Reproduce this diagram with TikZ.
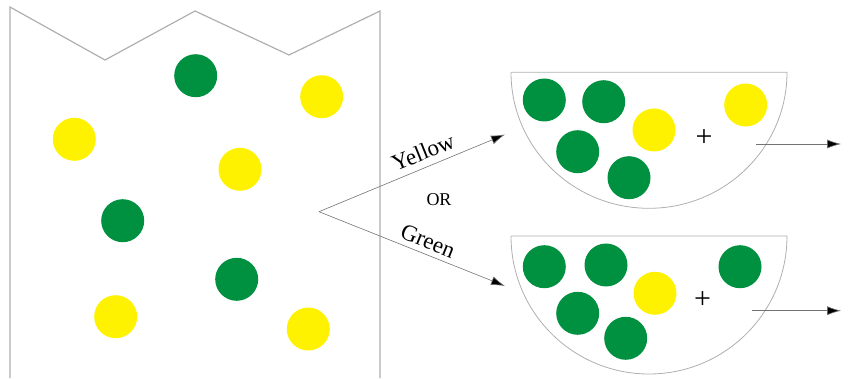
\documentclass[tikz,border=0pt]{standalone}
\usepackage{fontspec}
\setmainfont{Liberation Serif}
\usetikzlibrary{arrows.meta}
\definecolor{ballgreen}{RGB}{0,145,64}
\definecolor{ballyellow}{RGB}{255,242,0}
\definecolor{linegray}{RGB}{175,175,175}
\begin{document}
\begin{tikzpicture}[x=1pt,y=1pt,
  gball/.style={circle,fill=ballgreen,minimum size=43pt,inner sep=0pt},
  yball/.style={circle,fill=ballyellow,minimum size=43pt,inner sep=0pt},
  wall/.style={draw=linegray,line width=1.2pt},
  bowl/.style={draw=linegray,line width=0.8pt},
  arr/.style={draw=black!55,line width=0.6pt,-{Latex[length=14pt,width=9pt,fill=black]}},
  lbl/.style={font=\fontsize{23}{25}\selectfont,inner sep=0pt},
  plus/.style={font=\fontsize{30}{32}\selectfont,inner sep=0pt}]
\useasboundingbox (0,0) rectangle (852,378);
% container
\draw[wall] (10,0) -- (10,371) -- (105,318) -- (195,367) -- (289,323) -- (380,367) -- (380,0);
% balls in container
\node[gball] (c1) at (195.7,302.3) {};
\node[yball] (c2) at (321.7,281.3) {};
\node[yball] (c3) at (74.3,238.7) {};
\node[yball] (c4) at (240,208.7) {};
\node[gball] (c5) at (122.7,157.3) {};
\node[gball] (c6) at (236.7,98.7) {};
\node[yball] (c7) at (115.7,61.3) {};
\node[yball] (c8) at (308.3,49) {};
% choice arrows
\coordinate (o) at (319,166.3);
\coordinate (t1) at (505,243.5);
\coordinate (t2) at (505,92);
\draw[arr] (o) -- (t1);
\draw[arr] (o) -- (t2);
\node[lbl,rotate=22] (ly) at (423,226) {Yellow};
\node[font=\fontsize{18}{20}\selectfont,inner sep=0pt] (lor) at (439,178) {OR};
\node[lbl,rotate=-22] (lg) at (428,137) {Green};
% bowl 1
\draw[bowl] (511,305.7) -- (787,305.7) arc[start angle=0,end angle=-180,x radius=138,y radius=136];
\node[gball] (a1) at (544.3,278) {};
\node[gball] (a2) at (603.7,276.3) {};
\node[yball] (a3) at (654,248) {};
\node[gball] (a4) at (577.7,226.3) {};
\node[gball] (a5) at (629,200.3) {};
\node[plus] (ap) at (704,239.7) {+};
\node[yball] (a6) at (745.7,273) {};
\coordinate (as) at (756,234);
\coordinate (ae) at (841,234);
\draw[arr] (as) -- (ae);
% bowl 2
\draw[bowl] (511,142) -- (787,142) arc[start angle=0,end angle=-180,x radius=138,y radius=138];
\node[gball] (b1) at (544.3,111.3) {};
\node[gball] (b2) at (606,113) {};
\node[yball] (b3) at (655,84.7) {};
\node[gball] (b4) at (577.7,64.7) {};
\node[gball] (b5) at (625.7,39.7) {};
\node[plus] (bp) at (702.7,78) {+};
\node[gball] (b6) at (740,111.3) {};
\coordinate (bs) at (751.7,67.3);
\coordinate (be) at (841,67.3);
\draw[arr] (bs) -- (be);
\end{tikzpicture}
\end{document}
